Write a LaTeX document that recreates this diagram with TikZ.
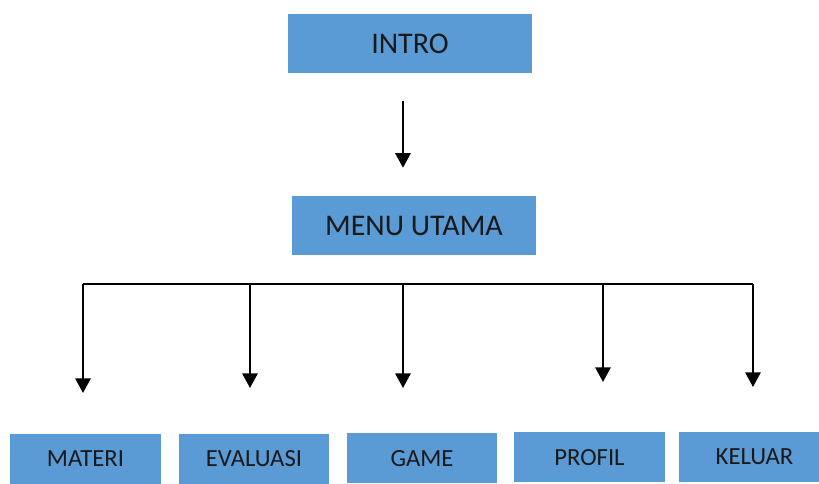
\documentclass[tikz,border=0pt]{standalone}
\usepackage{fontspec}
\setmainfont{Carlito}
\usetikzlibrary{arrows.meta}
\definecolor{boxblue}{HTML}{5B9BD5}
\tikzset{
    menubox/.style={fill=boxblue, inner sep=0pt, text=black!90},
    bigbox/.style={menubox, minimum width=183pt, minimum height=44.25pt, font=\fontsize{22.5}{26}\selectfont},
    smallbox/.style={menubox, minimum width=113pt, minimum height=37.5pt, font=\fontsize{18.5}{21}\selectfont},
    link/.style={line width=1.5pt},
    arr/.style={link, -{Triangle[width=11.5pt,length=11pt]}}
}

\begin{document}
\begin{tikzpicture}[x=0.75pt,y=-0.75pt]
            \useasboundingbox (0,0) rectangle (819,484);
            \node[bigbox] (intro) at (410,43.5) {INTRO};
            \node[bigbox] (menu) at (414,225.5) {MENU UTAMA};
            \coordinate (axis) at (403,0);
            \draw[arr, shorten <=21pt, shorten >=21pt] (intro.south -| axis) -- (menu.north -| axis);

            \node[smallbox] (materi) at (85.5,459) {MATERI};
            \node[smallbox] (evaluasi) at (254,459) {EVALUASI};
            \node[smallbox] (game) at (422,458.5) {GAME};
            \node[smallbox] (profil) at (589.5,457.5) {PROFIL};
            \node[smallbox] (keluar) at (754.5,457) {KELUAR};

            % drop lines to the menu items
            \foreach \n/\x/\y in {materi/83/393, evaluasi/250/388, game/403/388, profil/603/382, keluar/753/387} {
                \coordinate (top-\n) at (\x,284);
                \coordinate (tip-\n) at (\x,\y);
                \draw[arr] (top-\n) -- (tip-\n);
            }
            \draw[link] (top-materi) -- (top-keluar);
        \end{tikzpicture}
\end{document}
